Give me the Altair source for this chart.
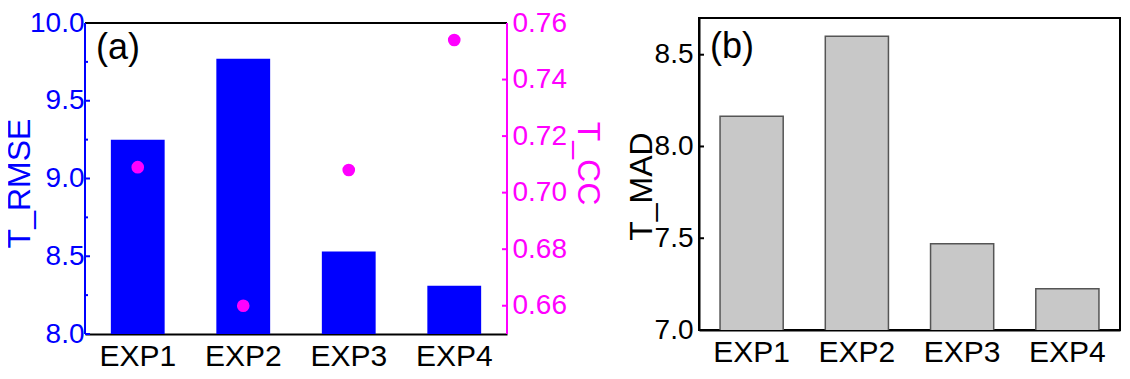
import altair as alt
import pandas as pd

# ---- data ----
experiments = ["EXP1", "EXP2", "EXP3", "EXP4"]
t_rmse = [9.25, 9.77, 8.53, 8.31]
t_cc = [0.709, 0.660, 0.708, 0.754]
t_mad = [8.165, 8.60, 7.47, 7.225]

rmse_major = [8.0, 8.5, 9.0, 9.5, 10.0]
rmse_minor = [8.25, 8.75, 9.25, 9.75]
cc_major = [0.66, 0.68, 0.70, 0.72, 0.74, 0.76]
mad_major = [7.0, 7.5, 8.0, 8.5]

rmse_range = [8.0, 10.0]
cc_range = [0.65, 0.76]
mad_domain = [7.0, 8.7]

FONT = "Liberation Sans"
BLUE = "#0000FF"
MAGENTA = "#FF00FF"

df = pd.DataFrame({"exp": experiments, "rmse": t_rmse, "cc": t_cc, "mad": t_mad})

# panel (a) frame sits a few px lower than panel (b): give (a) extra headroom
W_A, H_A, TOP_GAP = 422, 316, 5
W_B, H_B = 421, 312
inner_a = H_A - TOP_GAP
rmse_domain = [rmse_range[0], rmse_range[1] + (rmse_range[1] - rmse_range[0]) * TOP_GAP / inner_a]
cc_domain = [cc_range[0], cc_range[1] + (cc_range[1] - cc_range[0]) * TOP_GAP / inner_a]


def y_scale(domain):
    return alt.Scale(domain=domain, zero=False, nice=False)


def x_enc(pad_inner):
    return alt.X(
        "exp:N",
        sort=experiments,
        scale=alt.Scale(paddingInner=pad_inner, paddingOuter=pad_inner / 2),
        axis=alt.Axis(
            title=None, labelAngle=0, labelFontSize=30, labelColor="black",
            ticks=False, tickSize=0, labelPadding=7,
            domainColor="black", domainWidth=2,
        ),
    )


def inner_ticks(values, domain, x0, x1, color, width=2):
    d = pd.DataFrame({"v": values})
    return alt.Chart(d).mark_rule(color=color, strokeWidth=width).encode(
        y=alt.Y("v:Q", scale=y_scale(domain), axis=None),
        x=alt.value(x0),
        x2=alt.value(x1),
    )


def vline(lo, hi, domain, xpos, color):
    d = pd.DataFrame({"lo": [lo], "hi": [hi]})
    return alt.Chart(d).mark_rule(color=color, strokeWidth=2).encode(
        y=alt.Y("lo:Q", scale=y_scale(domain), axis=None),
        y2="hi:Q",
        x=alt.value(xpos),
    )


def hline(v, domain, width, color):
    d = pd.DataFrame({"v": [v]})
    return alt.Chart(d).mark_rule(color=color, strokeWidth=2).encode(
        y=alt.Y("v:Q", scale=y_scale(domain), axis=None),
        x=alt.value(0),
        x2=alt.value(width),
    )


def panel_label(txt, ypos):
    return alt.Chart(pd.DataFrame({"t": [txt]})).mark_text(
        align="left", baseline="middle", fontSize=36, color="black"
    ).encode(text="t:N", x=alt.value(11), y=alt.value(ypos))


# ---- panel (a) ----
bars_a = alt.Chart(df).mark_bar(color=BLUE, clip=True).encode(
    x=x_enc(0.49),
    y=alt.Y(
        "rmse:Q",
        scale=y_scale(rmse_domain),
        axis=alt.Axis(
            orient="left", values=rmse_major, format=".1f",
            labelColor=BLUE, labelFontSize=28, labelPadding=1,
            domain=False, ticks=False, tickSize=0, grid=False,
            title="T_RMSE", titleColor=BLUE, titleFontSize=32, titleFontWeight="normal",
            titleAngle=270, titleBaseline="middle", titleAlign="center",
            titleX=-66, titleY=165,
        ),
    ),
)

points_a = alt.Chart(df).mark_circle(color=MAGENTA, size=160, opacity=1).encode(
    x=x_enc(0.49),
    y=alt.Y(
        "cc:Q",
        scale=y_scale(cc_domain),
        axis=alt.Axis(
            orient="right", values=cc_major, format=".2f",
            labelColor=MAGENTA, labelFontSize=28, labelPadding=5,
            domain=False, ticks=False, tickSize=0, grid=False,
            title="T_CC", titleColor=MAGENTA, titleFontSize=32, titleFontWeight="normal",
            titleAngle=90, titleBaseline="middle", titleAlign="center",
            titleX=80, titleY=145,
        ),
    ),
)

panel_a = alt.layer(
    bars_a,
    points_a,
    inner_ticks(rmse_major, rmse_domain, 0, 5, BLUE),
    inner_ticks(rmse_minor, rmse_domain, 0, 3, BLUE),
    inner_ticks(cc_major, cc_domain, W_A - 5, W_A, MAGENTA),
    hline(rmse_range[1], rmse_domain, W_A, "black"),
    vline(rmse_range[0], rmse_range[1], rmse_domain, 0, BLUE),
    vline(cc_range[0], cc_range[1], cc_domain, W_A, MAGENTA),
    panel_label("(a)", 30),
).resolve_scale(y="independent").properties(width=W_A, height=H_A)

# ---- panel (b) ----
bars_b = alt.Chart(df).mark_bar(
    color="#C8C8C8", stroke="#555555", strokeWidth=1.5, clip=True
).encode(
    x=x_enc(0.4),
    y=alt.Y(
        "mad:Q",
        scale=y_scale(mad_domain),
        axis=alt.Axis(
            orient="left", values=mad_major, format=".1f",
            labelColor="black", labelFontSize=28, labelPadding=6,
            domainColor="black", domainWidth=2, ticks=False, tickSize=0, grid=False,
            title="T_MAD", titleColor="black", titleFontSize=32, titleFontWeight="normal",
            titleAngle=270, titleBaseline="middle", titleAlign="center",
            titleX=-58, titleY=168,
        ),
    ),
)

panel_b = alt.layer(
    bars_b,
    inner_ticks(mad_major, mad_domain, 0, 5, "black"),
    panel_label("(b)", 29),
).resolve_scale(y="independent").properties(
    width=W_B, height=H_B,
    view=alt.ViewBackground(stroke="black", strokeWidth=2),
)

chart = alt.hconcat(panel_a, panel_b, spacing=192, bounds="flush").properties(
    padding={"left": -5, "top": 0, "right": 0, "bottom": 0}
).configure(font=FONT).configure_view(strokeWidth=0)

chart.save("out.html", embed_options={"renderer": "svg", "actions": False})
